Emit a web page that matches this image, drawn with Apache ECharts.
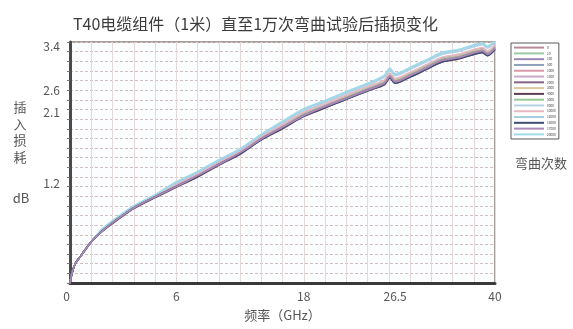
<!DOCTYPE html>
<html>
<head>
<meta charset="utf-8">
<script src="https://cdn.jsdelivr.net/npm/echarts@6/dist/echarts.min.js"></script>
<style>
  html, body { margin: 0; padding: 0; background: #fff; }
  #chart { width: 573px; height: 329px; }
</style>
</head>
<body>
<div id="chart"></div>
<script>
// Frequency sample points (GHz)
const freqGHz = [0, 0.2, 0.5, 1, 2, 3, 4.5, 6, 8, 10, 12, 14, 16, 18, 20, 22, 24, 26, 28, 29.6, 30.1, 30.6, 32, 33.5, 35, 36.5, 38, 38.8, 39.3, 40];

// Bend-cycle counts shown in the legend
const cycleLabels = ['0', '10', '100', '500', '1000', '1500', '2000', '3000', '4000', '5000', '8000', '10000', '12000', '15000', '17000', '20000'];

// Insertion loss (dB) after each number of bend cycles
const loss0     = [0, 0.15, 0.28, 0.39, 0.60, 0.75, 0.93, 1.09, 1.25, 1.41, 1.56, 1.73, 1.89, 2.10, 2.27, 2.44, 2.57, 2.69, 2.81, 2.91, 3.01, 2.93, 3.02, 3.13, 3.24, 3.28, 3.35, 3.38, 3.33, 3.42];
const loss10    = [0, 0.15, 0.28, 0.39, 0.60, 0.76, 0.94, 1.10, 1.26, 1.42, 1.57, 1.74, 1.90, 2.11, 2.28, 2.46, 2.58, 2.71, 2.83, 2.93, 3.03, 2.95, 3.04, 3.15, 3.26, 3.30, 3.37, 3.40, 3.35, 3.44];
const loss100   = [0, 0.15, 0.28, 0.39, 0.60, 0.75, 0.93, 1.09, 1.25, 1.40, 1.55, 1.72, 1.89, 2.09, 2.26, 2.43, 2.56, 2.68, 2.81, 2.90, 3.00, 2.92, 3.01, 3.12, 3.23, 3.27, 3.34, 3.37, 3.32, 3.41];
const loss500   = [0, 0.15, 0.28, 0.39, 0.60, 0.76, 0.94, 1.10, 1.26, 1.43, 1.58, 1.75, 1.91, 2.12, 2.29, 2.47, 2.59, 2.72, 2.84, 2.94, 3.04, 2.96, 3.05, 3.16, 3.27, 3.31, 3.38, 3.41, 3.36, 3.45];
const loss1000  = [0, 0.15, 0.28, 0.39, 0.60, 0.76, 0.93, 1.10, 1.25, 1.41, 1.56, 1.73, 1.89, 2.10, 2.26, 2.44, 2.56, 2.69, 2.81, 2.91, 3.01, 2.93, 3.02, 3.13, 3.24, 3.28, 3.35, 3.38, 3.33, 3.42];
const loss1500  = [0, 0.15, 0.28, 0.39, 0.60, 0.76, 0.94, 1.10, 1.26, 1.42, 1.57, 1.74, 1.90, 2.11, 2.27, 2.45, 2.57, 2.70, 2.82, 2.92, 3.02, 2.94, 3.03, 3.14, 3.25, 3.29, 3.36, 3.39, 3.34, 3.43];
const loss2000  = [0, 0.15, 0.28, 0.39, 0.60, 0.75, 0.93, 1.09, 1.25, 1.40, 1.55, 1.72, 1.88, 2.09, 2.25, 2.43, 2.55, 2.68, 2.80, 2.89, 2.99, 2.91, 3.00, 3.11, 3.22, 3.26, 3.33, 3.36, 3.31, 3.40];
const loss3000  = [0, 0.15, 0.28, 0.39, 0.60, 0.75, 0.94, 1.10, 1.26, 1.42, 1.57, 1.74, 1.90, 2.11, 2.28, 2.45, 2.58, 2.71, 2.83, 2.93, 3.02, 2.95, 3.04, 3.14, 3.25, 3.30, 3.37, 3.39, 3.35, 3.43];
const loss4000  = [0, 0.15, 0.28, 0.39, 0.60, 0.75, 0.92, 1.08, 1.24, 1.39, 1.54, 1.71, 1.87, 2.08, 2.24, 2.42, 2.54, 2.67, 2.79, 2.88, 2.98, 2.90, 2.99, 3.10, 3.21, 3.25, 3.32, 3.35, 3.30, 3.39];
const loss5000  = [0, 0.15, 0.28, 0.39, 0.60, 0.75, 0.93, 1.10, 1.26, 1.41, 1.57, 1.74, 1.90, 2.11, 2.27, 2.45, 2.58, 2.70, 2.82, 2.92, 3.01, 2.94, 3.03, 3.14, 3.25, 3.29, 3.36, 3.38, 3.34, 3.43];
const loss8000  = [0, 0.15, 0.28, 0.39, 0.60, 0.77, 0.95, 1.11, 1.27, 1.45, 1.60, 1.77, 1.93, 2.14, 2.32, 2.50, 2.62, 2.75, 2.87, 2.99, 3.09, 3.01, 3.10, 3.21, 3.32, 3.36, 3.43, 3.46, 3.41, 3.50];
const loss10000 = [0, 0.15, 0.28, 0.39, 0.60, 0.77, 0.95, 1.11, 1.27, 1.43, 1.58, 1.75, 1.91, 2.12, 2.30, 2.48, 2.60, 2.73, 2.85, 2.95, 3.05, 2.97, 3.06, 3.17, 3.28, 3.32, 3.39, 3.42, 3.37, 3.46];
const loss12000 = [0, 0.15, 0.28, 0.39, 0.60, 0.78, 0.96, 1.12, 1.28, 1.46, 1.61, 1.78, 1.94, 2.15, 2.34, 2.52, 2.64, 2.77, 2.89, 3.01, 3.11, 3.03, 3.12, 3.23, 3.34, 3.38, 3.45, 3.48, 3.43, 3.52];
const loss15000 = [0, 0.15, 0.28, 0.39, 0.60, 0.75, 0.93, 1.09, 1.25, 1.40, 1.55, 1.72, 1.88, 2.08, 2.25, 2.42, 2.55, 2.67, 2.79, 2.89, 2.98, 2.90, 2.99, 3.10, 3.21, 3.26, 3.32, 3.35, 3.30, 3.39];
const loss17000 = [0, 0.15, 0.28, 0.39, 0.60, 0.75, 0.93, 1.09, 1.25, 1.40, 1.56, 1.72, 1.89, 2.09, 2.26, 2.43, 2.56, 2.68, 2.80, 2.90, 3.00, 2.92, 3.01, 3.12, 3.23, 3.27, 3.34, 3.37, 3.32, 3.41];
const loss20000 = [0, 0.15, 0.28, 0.39, 0.60, 0.78, 0.96, 1.12, 1.28, 1.47, 1.62, 1.79, 1.95, 2.16, 2.35, 2.53, 2.65, 2.78, 2.90, 3.02, 3.12, 3.04, 3.13, 3.24, 3.35, 3.39, 3.46, 3.49, 3.44, 3.53];

const lossSeries = [loss0, loss10, loss100, loss500, loss1000, loss1500, loss2000, loss3000,
                    loss4000, loss5000, loss8000, loss10000, loss12000, loss15000, loss17000, loss20000];

// Axis tick label texts and where they sit along each axis
const xTickText = ['0', '6', '18', '26.5', '40'];
const xTickAt   = [0, 10, 22, 30.6, 40];
const yTickText = ['3.4', '2.6', '2.1', '1.2'];
const yTickAt   = [3.43, 2.79, 2.48, 1.45];

// Line colours, one per bend-cycle count
const palette = ['#b88c9c', '#9ccaa2', '#9c88b4', '#8e9fba', '#d89aaa', '#c9aacb', '#866484', '#d9c9a0',
                 '#5e3e52', '#98c898', '#b3d2e6', '#e6b8c4', '#a6cde0', '#414f78', '#a98ab8', '#9fdbea'];
// darker traces are drawn on top
const onTop = [0, 2, 6, 8, 13, 14];

const chart = echarts.init(document.getElementById('chart'), null, { renderer: 'canvas' });
const cjk = '"Noto Sans CJK SC", "Noto Sans", sans-serif';
const hGrid = { color: '#cfc0c0', width: 1, type: [3, 2] };

const option = {
  animation: false,
  backgroundColor: '#ffffff',
  color: palette,
  textStyle: { fontFamily: cjk },
  title: {
    text: 'T40电缆组件（1米）直至1万次弯曲试验后插损变化',
    left: 68,
    top: 11,
    textStyle: { fontSize: 16, fontWeight: 'normal', color: '#3c3c3c', fontFamily: cjk }
  },
  legend: {
    orient: 'vertical',
    left: 511,
    top: 43,
    itemWidth: 30,
    itemHeight: 2,
    itemGap: 2.6,
    icon: 'rect',
    padding: [3, 3, 3, 3],
    borderColor: '#5a5a5a',
    borderWidth: 1,
    backgroundColor: '#ffffff',
    textStyle: { fontSize: 3.2, color: '#444', padding: [0, 0, 0, -2] },
    data: cycleLabels
  },
  grid: {
    left: 70, right: 78, top: 42, bottom: 46,
    show: true,
    borderColor: '#8d807a',
    borderWidth: 1.5,
    backgroundColor: '#fbfdff'
  },
  xAxis: {
    type: 'value',
    min: 0, max: 40, interval: 2,
    name: '频率（GHz）',
    nameLocation: 'middle',
    nameGap: 26,
    nameTextStyle: { fontSize: 13, color: '#555', fontFamily: cjk },
    axisLine: { lineStyle: { color: '#3a3a3a', width: 3 } },
    axisTick: { show: false },
    axisLabel: {
      customValues: xTickAt,
      formatter: v => xTickText[xTickAt.indexOf(v)],
      alignMinLabel: 'right',
      color: '#555', fontSize: 12, margin: 7
    },
    splitLine: { lineStyle: { color: '#e4d8d8', width: 1 } }
  },
  yAxis: {
    type: 'value',
    min: 0, max: 3.5, interval: 0.7,
    axisLine: { show: true, lineStyle: { color: '#4a4a4a', width: 3 } },
    axisTick: { show: true, length: 3, lineStyle: { color: '#777', width: 1 } },
    minorTick: { show: true, splitNumber: 5, length: 3, lineStyle: { color: '#777', width: 1 } },
    axisLabel: {
      customValues: yTickAt,
      formatter: v => yTickText[yTickAt.indexOf(v)],
      color: '#555', fontSize: 12, margin: 10
    },
    splitLine: { lineStyle: hGrid },
    minorSplitLine: { show: true, lineStyle: hGrid }
  },
  graphic: [
    { type: 'text', x: 20, y: 99,
      style: { text: '插\n入\n损\n耗', align: 'center', verticalAlign: 'top', lineHeight: 16.5,
               font: '13px ' + cjk, fill: '#555' } },
    { type: 'text', x: 21, y: 198,
      style: { text: 'dB', align: 'center', verticalAlign: 'middle', font: '13px ' + cjk, fill: '#555' } },
    { type: 'text', x: 541, y: 163,
      style: { text: '弯曲次数', align: 'center', verticalAlign: 'middle', font: '13px ' + cjk, fill: '#555' } }
  ],
  series: lossSeries.map((vals, i) => ({
    name: cycleLabels[i],
    type: 'line',
    showSymbol: false,
    smooth: 0.25,
    z: onTop.includes(i) ? 3 : 2,
    lineStyle: { width: 1.6, color: palette[i] },
    itemStyle: { color: palette[i] },
    data: freqGHz.map((f, j) => [f, vals[j]])
  }))
};

chart.setOption(option);
</script>
</body>
</html>
